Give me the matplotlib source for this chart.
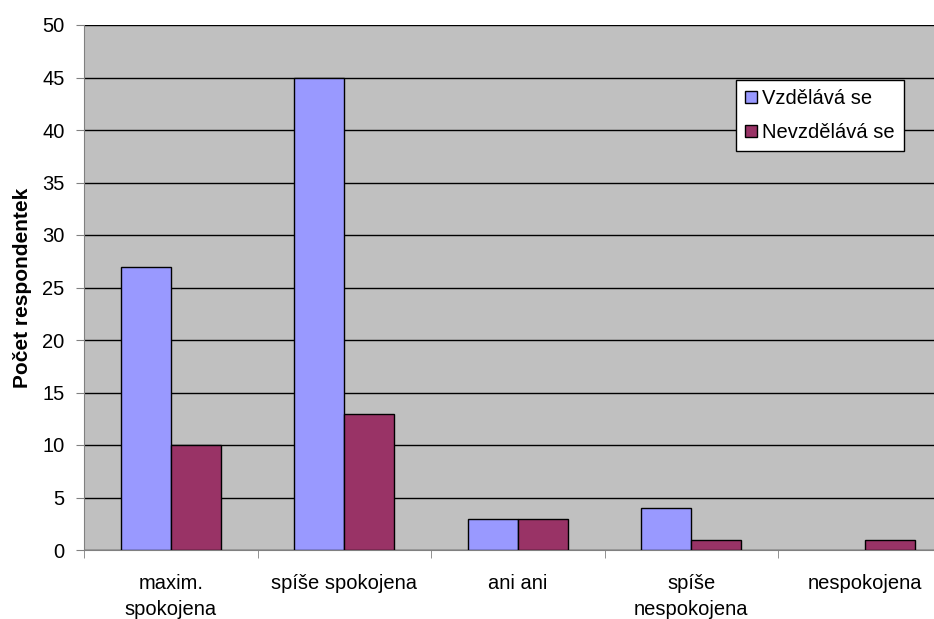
import numpy as np
import matplotlib.pyplot as plt

plt.rcParams['font.family'] = ['Liberation Sans', 'DejaVu Sans']

categories = ["maxim.\nspokojena", "spíše spokojena", "ani ani", "spíše\nnespokojena", "nespokojena"]
vzdelava = [27, 45, 3, 4, 0]
nevzdelava = [10, 13, 3, 1, 1]
series_names = ["Vzdělává se", "Nevzdělává se"]
y_ticks = list(range(0, 51, 5))

fig = plt.figure(figsize=(9.34, 6.19), dpi=100)
ax = fig.add_axes([84 / 934, (619 - 550) / 619, 850 / 934, 525 / 619])
ax.set_facecolor("#C0C0C0")

x = np.arange(len(categories))
w = 0.288
# zero-height bars get no outline
lw_a = [1 if v else 0 for v in vzdelava]
lw_b = [1 if v else 0 for v in nevzdelava]
ax.bar(x - w / 2, vzdelava, w, color="#9999FF", edgecolor="black", linewidth=lw_a, label=series_names[0], zorder=3)
ax.bar(x + w / 2, nevzdelava, w, color="#993366", edgecolor="black", linewidth=lw_b, label=series_names[1], zorder=3)

ax.set_xlim(-0.5, -0.5 + 850 / 173.5)
ax.set_ylim(0, 50)
ax.set_yticks(y_ticks)
ax.yaxis.grid(True, color="black", linewidth=1, zorder=1)
ax.tick_params(axis="y", labelsize=14.5, length=6, color="#808080", pad=8)

ax.set_xticks(x)
ax.set_xticklabels(categories, fontsize=14.5, linespacing=1.5)
ax.tick_params(axis="x", which="major", length=0, pad=17)
ax.set_xticks(np.arange(len(categories)) - 0.5, minor=True)
ax.tick_params(axis="x", which="minor", length=6, color="#808080")

for side in ["top", "right"]:
    ax.spines[side].set_visible(False)
ax.spines["left"].set_color("#808080")
ax.spines["bottom"].set_color("#808080")

ax.set_ylabel("Počet respondentek", fontsize=15, fontweight="bold", labelpad=7)

leg = ax.legend(loc="upper left", bbox_to_anchor=((736 - 84) / 850, (550 - 80) / 525),
                fontsize=14.5, frameon=True, fancybox=False, framealpha=1,
                handlelength=0.6, handleheight=0.6, handletextpad=0.25,
                borderpad=0.45, labelspacing=0.75, borderaxespad=0)
leg.get_frame().set_edgecolor("black")
leg.get_frame().set_linewidth(1)

fig.savefig("out.png", dpi=100)
